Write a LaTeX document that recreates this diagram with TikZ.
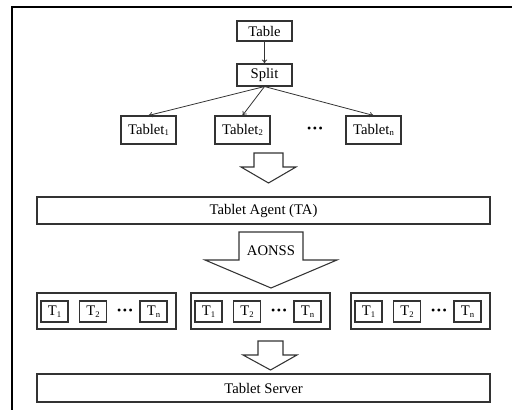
\documentclass[tikz,border=0pt]{standalone}
\usepackage{fontspec}
\setmainfont{Liberation Serif}
\usetikzlibrary{arrows.meta}
\newcommand{\lowidx}[1]{\raisebox{-0.25ex}{\fontsize{6.5}{7}\selectfont #1}}
\newcommand{\threedots}{{\fontsize{9}{9}\selectfont\textbullet\hspace{1.2pt}\textbullet\hspace{1.2pt}\textbullet}}

\begin{document}
\begin{tikzpicture}[x=0.75pt,y=-0.75pt,
    box/.style={draw=black!80,line width=0.8pt,inner sep=0pt,font=\fontsize{11}{13}\selectfont},
    wide/.style={box,minimum width=453*0.75pt},
    small/.style={box,minimum width=27*0.75pt,minimum height=21*0.75pt},
    link/.style={draw=black!80,line width=0.6pt,-{To[length=3pt,width=4pt]}},
    hollow/.style={draw=black!80,line width=0.8pt,line join=miter}]
  \useasboundingbox (0,0) rectangle (512,410);
  % frame
  \draw[line width=1pt] (12,410) -- (12,7) -- (512,7);

  \node[box,minimum width=55*0.75pt,minimum height=20*0.75pt] (table) at (264.5,31) {Table};
  \node[box,minimum width=55*0.75pt,minimum height=22*0.75pt] (split) at (264.5,75) {Split};
  \node[box,minimum width=55*0.75pt,minimum height=28*0.75pt] (tab1) at (148.5,130) {Tablet\lowidx{1}};
  \node[box,minimum width=55*0.75pt,minimum height=28*0.75pt] (tab2) at (242.5,130) {Tablet\lowidx{2}};
  \node[box,minimum width=55*0.75pt,minimum height=28*0.75pt] (tabn) at (373.5,130) {Tablet\lowidx{n}};
  \node (tabdots) at (315,130) {\threedots};
  \draw[link] (table) -- (split);
  \draw[link] (split.south) -- (tab1.north);
  \draw[link] (split.south) -- (tab2.north);
  \draw[link] (split.south) -- (tabn.north);

  % hollow arrows
  \draw[hollow] (254,153) -- (283,153) -- (283,167) -- (296,167) -- (268.5,183) -- (241,167) -- (254,167) -- cycle;
  \node[wide,minimum height=27*0.75pt] (ta) at (263.5,210.5) {Tablet Agent (TA)};
  \draw[hollow] (239,232) -- (303,232) -- (303,260) -- (337,260) -- (271,288) -- (205,260) -- (239,260) -- cycle;
  \node[font=\fontsize{11}{13}\selectfont] (aonss) at (271,251) {AONSS};

  % tablet servers
  \foreach \g/\gx in {1/37,2/191,3/351}{
    \node[box,minimum width=139*0.75pt,minimum height=36*0.75pt] (grp\g) at (\gx+69.5,311) {};
    \node[small] (t\g1) at (\gx+17.5,311.5) {T\lowidx{1}};
    \node[small] (t\g2) at (\gx+56,311.5) {T\lowidx{2}};
    \node (d\g) at (\gx+88,311.5) {\threedots};
    \node[small] (t\g n) at (\gx+116.5,311.5) {T\lowidx{n}};
  }
  \draw[hollow] (258,341) -- (283,341) -- (283,355) -- (297,355) -- (270.5,370) -- (243,355) -- (258,355) -- cycle;
  \node[wide,minimum height=28*0.75pt] (server) at (263.5,388) {Tablet Server};
\end{tikzpicture}
\end{document}
